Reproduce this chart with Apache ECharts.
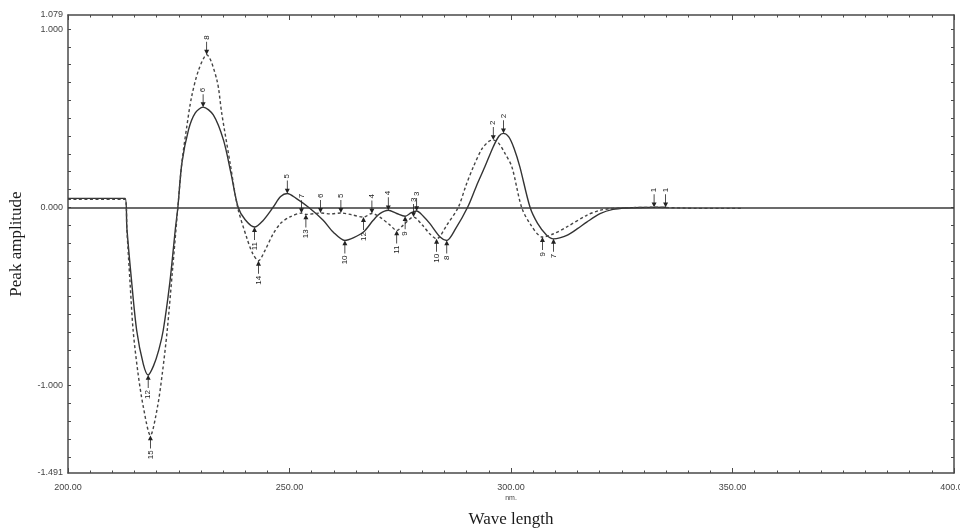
<!DOCTYPE html>
<html><head><meta charset="utf-8">
<script src="https://cdn.jsdelivr.net/npm/echarts@6/dist/echarts.min.js"></script>
<style>html,body{margin:0;padding:0;background:#fff;overflow:hidden}#c{width:960px;height:531px}</style>
</head><body><div id="c"></div>
<script>
// ---- data ----
const solidX = [200, 212.9, 213.3, 214.3, 215.5, 217, 218.1, 219.3, 220.5, 221.5, 223, 224.2, 224.8, 225.7, 227.2, 228.7, 230.5, 232.8, 235.1, 236.8, 238.4, 240, 242.1, 244, 246.3, 248, 249.5, 251.5, 254.3, 257.6, 259.9, 262.5, 264.5, 266.7, 268.9, 270.4, 272.3, 274.2, 276.1, 277.5, 278.7, 280.2, 281.7, 284, 285.5, 287.5, 290.2, 292.2, 294.1, 296, 297.3, 298.3, 299.5, 300.7, 302, 304.3, 306, 308, 309.6, 311, 312.6, 315, 317.1, 320.1, 323, 326, 330, 335];
const solidY = [0.05, 0.05, -0.12, -0.40, -0.69, -0.88, -0.941, -0.89, -0.80, -0.69, -0.42, -0.13, 0, 0.246, 0.434, 0.528, 0.562, 0.518, 0.377, 0.19, 0, -0.07, -0.111, -0.075, 0, 0.06, 0.077, 0.05, 0, -0.073, -0.14, -0.186, -0.17, -0.139, -0.073, -0.036, -0.017, -0.035, -0.05, -0.03, -0.021, -0.05, -0.092, -0.167, -0.186, -0.12, 0, 0.12, 0.227, 0.34, 0.40, 0.415, 0.395, 0.33, 0.227, 0, -0.09, -0.155, -0.177, -0.172, -0.158, -0.12, -0.083, -0.036, -0.012, -0.004, -0.001, 0];

const dashedX = [200, 212.9, 213.3, 214, 214.7, 215.8, 217, 218.6, 220.2, 221.3, 222.4, 223.6, 224.8, 225.7, 226.8, 227.9, 229.5, 231.3, 233.6, 234.7, 236.6, 238.3, 240.3, 241.7, 243, 244.5, 246.3, 248, 250, 252.7, 253.7, 255.5, 257, 259.3, 261.6, 264, 266.7, 268.6, 270.4, 272.7, 274.2, 275.7, 278, 280, 281.7, 283.2, 285.5, 288.1, 289.8, 291.5, 293.5, 295, 296, 297.2, 298.7, 300.2, 302.4, 304.5, 307.1, 309.5, 312.6, 317.1, 320.1, 323, 326, 332.3, 342, 352];
const dashedY = [0.045, 0.045, -0.13, -0.42, -0.69, -0.93, -1.12, -1.28, -1.12, -0.93, -0.69, -0.35, 0, 0.25, 0.45, 0.62, 0.772, 0.856, 0.715, 0.528, 0.246, 0, -0.167, -0.26, -0.30, -0.24, -0.15, -0.09, -0.055, -0.033, -0.04, -0.036, -0.032, -0.037, -0.032, -0.042, -0.055, -0.035, -0.055, -0.10, -0.13, -0.10, -0.055, -0.10, -0.15, -0.177, -0.10, 0, 0.12, 0.227, 0.33, 0.37, 0.377, 0.36, 0.30, 0.227, 0, -0.10, -0.167, -0.15, -0.11, -0.045, -0.017, -0.006, -0.003, 0, -0.006, -0.006];

// peak picks: maxima labelled above, minima below
const solidPeakX = [334.9, 298.3, 278.7, 272.3, 249.5, 230.5, 309.6, 285.5, 276.1, 262.5, 242.1, 218.1];
const solidPeakY = [0, 0.415, -0.021, -0.017, 0.077, 0.562, -0.177, -0.186, -0.05, -0.186, -0.111, -0.941];
const solidPeakLabel = ['1', '2', '3', '4', '5', '6', '7', '8', '9', '10', '11', '12'];
const solidPeakIsMax = [true, true, true, true, true, true, false, false, false, false, false, false];

const dashedPeakX = [332.3, 296.0, 278.0, 268.6, 261.6, 257.0, 252.7, 231.3, 307.1, 283.2, 274.2, 266.7, 253.7, 243.0, 218.6];
const dashedPeakY = [0, 0.377, -0.055, -0.035, -0.032, -0.032, -0.033, 0.856, -0.167, -0.177, -0.13, -0.055, -0.04, -0.30, -1.28];
const dashedPeakLabel = ['1', '2', '3', '4', '5', '6', '7', '8', '9', '10', '11', '12', '13', '14', '15'];
const dashedPeakIsMax = [true, true, true, true, true, true, true, true, false, false, false, false, false, false, false];

const xTickLabels = [200, 250, 300, 350, 400];
const yTickLabels = [1.079, 1.000, 0.000, -1.000, -1.491];
const yMinorTicks = [-1.4, -1.3, -1.2, -1.1, -1.0, -0.9, -0.8, -0.7, -0.6, -0.5, -0.4, -0.3, -0.2, -0.1, 0, 0.1, 0.2, 0.3, 0.4, 0.5, 0.6, 0.7, 0.8, 0.9, 1.0];

// ---- chart ----
const ARROW_DOWN = 'path://M4.2,0 L5.8,0 L5.8,10 L10,10 L5,16 L0,10 L4.2,10 Z';
const ARROW_UP = 'path://M5,0 L10,6 L5.8,6 L5.8,16 L4.2,16 L4.2,6 L0,6 Z';

function peaks(xs, ys, labels, isMax) {
  return xs.map((x, i) => ({
    name: labels[i],
    coord: [x, ys[i]],
    symbol: isMax[i] ? ARROW_DOWN : ARROW_UP,
    symbolSize: [5, 13],
    symbolOffset: [0, isMax[i] ? -6.5 : 6.5],
    label: isMax[i]
      ? { position: 'top', distance: 2, rotate: 90, align: 'left', verticalAlign: 'middle' }
      : { position: 'bottom', distance: 2, rotate: 90, align: 'right', verticalAlign: 'middle' }
  }));
}

const frame = '#4a4a4a';
const tickFont = { fontFamily: 'Liberation Sans', fontSize: 9, color: '#444' };

const chart = echarts.init(document.getElementById('c'), null, { renderer: 'canvas' });
chart.setOption({
  animation: false,
  backgroundColor: '#fff',
  grid: { left: 68, right: 6, top: 15, bottom: 58, containLabel: false, outerBoundsMode: 'none' },
  xAxis: [
    {
      type: 'value', position: 'bottom', min: 200, max: 400, interval: 50,
      axisLine: { show: true, onZero: false, lineStyle: { color: frame, width: 1.5 } },
      axisTick: { show: true, inside: true, length: 5, lineStyle: { color: frame } },
      minorTick: { show: true, splitNumber: 10, length: 2.5, lineStyle: { color: frame } },
      axisLabel: Object.assign({ margin: 10, formatter: v => xTickLabels.includes(v) ? v.toFixed(2) : '' }, tickFont),
      splitLine: { show: false }, minorSplitLine: { show: false }
    },
    {
      type: 'value', position: 'top', min: 200, max: 400, interval: 50,
      axisLine: { show: true, onZero: false, lineStyle: { color: frame, width: 1.5 } },
      axisTick: { show: true, inside: true, length: 5, lineStyle: { color: frame } },
      minorTick: { show: true, splitNumber: 10, length: 2.5, lineStyle: { color: frame } },
      axisLabel: { show: false }, splitLine: { show: false }
    }
  ],
  yAxis: [
    {
      type: 'value', position: 'left', min: -1.491, max: 1.079,
      axisLine: { show: true, onZero: false, lineStyle: { color: frame, width: 1.5 } },
      axisTick: { show: true, inside: true, length: 3, customValues: yMinorTicks, lineStyle: { color: frame } },
      axisLabel: Object.assign({ margin: 5, customValues: yTickLabels, formatter: v => v.toFixed(3) }, tickFont),
      splitLine: { show: false },
      name: 'Peak amplitude', nameLocation: 'middle', nameGap: 43, nameRotate: 90,
      nameTextStyle: { fontFamily: 'Liberation Serif', fontSize: 17, color: '#1a1a1a' }
    },
    {
      type: 'value', position: 'right', min: -1.491, max: 1.079,
      axisLine: { show: true, onZero: false, lineStyle: { color: frame, width: 1.5 } },
      axisTick: { show: true, inside: true, length: 3, customValues: yMinorTicks, lineStyle: { color: frame } },
      axisLabel: { show: false }, splitLine: { show: false }
    }
  ],
  graphic: [
    { type: 'text', x: 511, y: 498, style: { text: 'nm.', fontFamily: 'Liberation Sans', fontSize: 7, fill: '#444', align: 'center', verticalAlign: 'middle' } },
    { type: 'text', x: 511, y: 520, style: { text: 'Wave length', fontFamily: 'Liberation Serif', fontSize: 17, fill: '#1a1a1a', align: 'center', verticalAlign: 'middle' } }
  ],
  series: [
    {
      name: 'solid', type: 'line', xAxisIndex: 0, yAxisIndex: 0,
      data: solidX.map((x, i) => [x, solidY[i]]),
      showSymbol: false, smooth: 0.3, z: 3,
      lineStyle: { color: '#333', width: 1.4, type: 'solid' },
      markLine: {
        silent: true, symbol: ['none', 'none'], label: { show: false }, z: 2,
        lineStyle: { color: '#3a3a3a', width: 1.6, type: 'solid' },
        data: [{ yAxis: 0 }]
      },
      markPoint: {
        silent: true, z: 5,
        itemStyle: { color: '#222' },
        label: { show: true, formatter: '{b}', fontFamily: 'Liberation Sans', fontSize: 8, color: '#222' },
        data: peaks(solidPeakX, solidPeakY, solidPeakLabel, solidPeakIsMax)
      }
    },
    {
      name: 'dashed', type: 'line', xAxisIndex: 0, yAxisIndex: 0,
      data: dashedX.map((x, i) => [x, dashedY[i]]),
      showSymbol: false, smooth: 0.3, z: 3,
      lineStyle: { color: '#444', width: 1.4, type: [3, 2.5] },
      markPoint: {
        silent: true, z: 5,
        itemStyle: { color: '#222' },
        label: { show: true, formatter: '{b}', fontFamily: 'Liberation Sans', fontSize: 8, color: '#222' },
        data: peaks(dashedPeakX, dashedPeakY, dashedPeakLabel, dashedPeakIsMax)
      }
    }
  ]
});
</script>
</body></html>
